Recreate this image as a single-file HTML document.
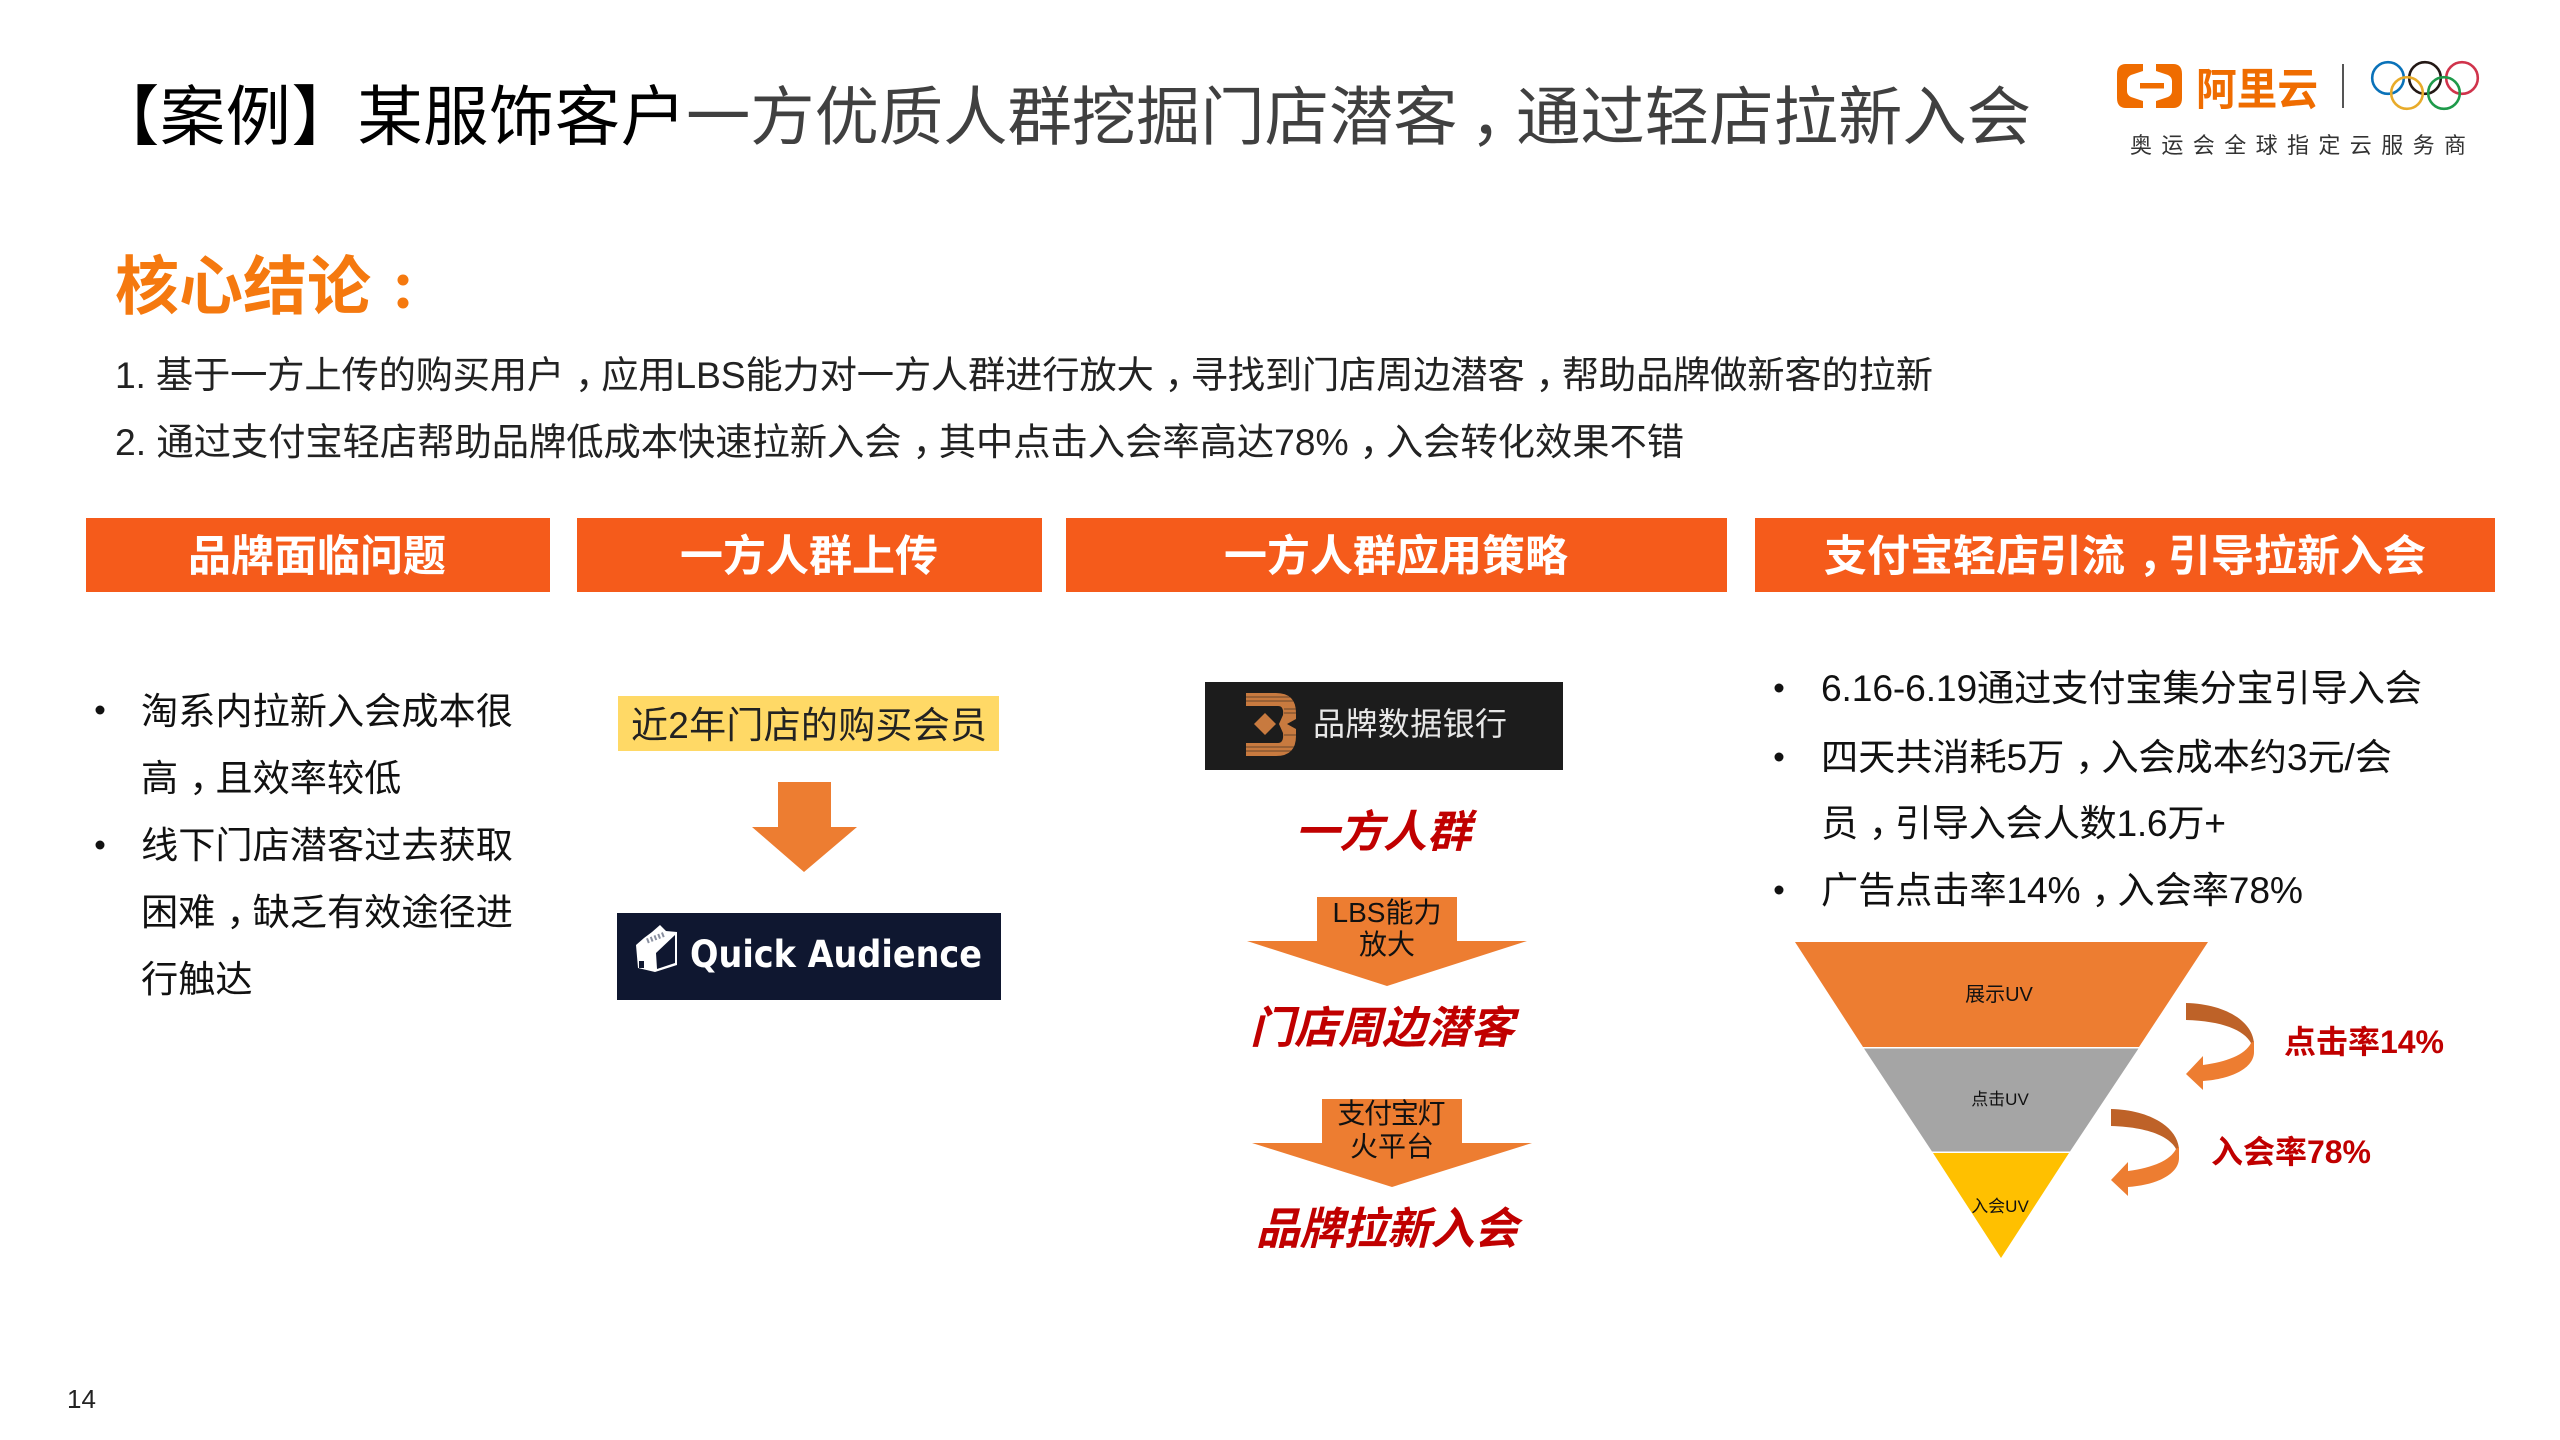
<!DOCTYPE html>
<html lang="zh">
<head>
<meta charset="utf-8">
<title>案例</title>
<style>
html,body{margin:0;padding:0;background:#fff;width:2560px;height:1440px;overflow:hidden}
svg{display:block}
text{font-family:"Liberation Sans","Noto Sans CJK SC",sans-serif;white-space:pre}
.b{font-size:37.2px;fill:#111}
.h{font-size:43px;font-weight:700;fill:#fff;text-anchor:middle}
.r{font-size:44px;font-weight:700;font-style:italic;fill:#C00000}
.s{font-size:28px;fill:#111;text-anchor:middle}
.u{fill:#111;text-anchor:middle}
.k{font-size:32px;font-weight:700;fill:#C00000}
</style>
</head>
<body>
<svg width="2560" height="1440" viewBox="0 0 2560 1440" xmlns="http://www.w3.org/2000/svg">
<rect width="2560" height="1440" fill="#fff"/>

<!-- Title -->
<text x="94" y="139.5" font-size="65.3" fill="#000" textLength="592">【案例】某服饰客户</text>
<text x="686" y="139.5" font-size="64.3" fill="#404040">一方优质人群挖掘门店潜客</text>
<text x="1470" y="139.5" font-size="64.6" fill="#404040">，</text>
<text x="1516" y="139.5" font-size="64.4" fill="#404040">通过轻店拉新入会</text>

<!-- Logo -->
<path fill="#EF6C00" d="M2126 64H2143V71L2131 75Q2127 77 2127 81V91Q2127 95 2131 97L2143 101V108H2126Q2117 108 2117 98V74Q2117 64 2126 64Z"/>
<path fill="#EF6C00" d="M2173 64H2156V71L2168 75Q2172 77 2172 81V91Q2172 95 2168 97L2156 101V108H2173Q2182 108 2182 98V74Q2182 64 2173 64Z"/>
<rect x="2140" y="83" width="24" height="5.5" fill="#EF6C00"/>
<text x="2196" y="104.5" font-size="44" font-weight="700" fill="#EF6C00" textLength="122" lengthAdjust="spacingAndGlyphs">阿里云</text>
<rect x="2342" y="64" width="2" height="44" fill="#555"/>
<g fill="none" stroke-width="2.6">
<circle cx="2388" cy="78" r="15.8" stroke="#0A72B9"/>
<circle cx="2425" cy="78" r="15.8" stroke="#231815"/>
<circle cx="2462" cy="78" r="15.8" stroke="#D0334B"/>
<circle cx="2407" cy="93" r="15.8" stroke="#E8AB2A"/>
<circle cx="2444" cy="93" r="15.8" stroke="#1E9A4A"/>
</g>
<text x="2130" y="153" font-size="22" fill="#333" textLength="336">奥运会全球指定云服务商</text>

<!-- Conclusions -->
<text x="115" y="309" font-size="64" font-weight="700" fill="#F5790F">核心结论</text>
<circle cx="403" cy="280" r="5.5" fill="#F5790F"/>
<circle cx="403" cy="303" r="5.5" fill="#F5790F"/>
<text x="115" y="388" font-size="37.3" fill="#222" textLength="1818">1. 基于一方上传的购买用户<tspan dx="11">，</tspan><tspan dx="-11">应</tspan>用LBS能力对一方人群进行放大<tspan dx="11">，</tspan><tspan dx="-11">寻</tspan>找到门店周边潜客<tspan dx="11">，</tspan><tspan dx="-11">帮</tspan>助品牌做新客的拉新</text>
<text x="115" y="455" font-size="37.3" fill="#222" textLength="1569">2. 通过支付宝轻店帮助品牌低成本快速拉新入会<tspan dx="11">，</tspan><tspan dx="-11">其</tspan>中点击入会率高达78%<tspan dx="11">，</tspan><tspan dx="-11">入</tspan>会转化效果不错</text>

<!-- Header bars -->
<g fill="#F55B1B">
<rect x="86" y="518" width="464" height="74"/>
<rect x="577" y="518" width="465" height="74"/>
<rect x="1066" y="518" width="661" height="74"/>
<rect x="1755" y="518" width="740" height="74"/>
</g>
<text class="h" x="317" y="571">品牌面临问题</text>
<text class="h" x="809" y="571">一方人群上传</text>
<text class="h" x="1396" y="571">一方人群应用策略</text>
<text class="h" x="2125" y="571">支付宝轻店引流<tspan dx="13">，</tspan><tspan dx="-13">引</tspan>导拉新入会</text>

<!-- Column 1 -->
<circle cx="100" cy="710" r="4.5" fill="#111"/>
<circle cx="100" cy="845" r="4.5" fill="#111"/>
<text class="b" x="141" y="724">淘系内拉新入会成本很</text>
<text class="b" x="141" y="791">高<tspan dx="11">，</tspan><tspan dx="-11">且</tspan>效率较低</text>
<text class="b" x="141" y="858">线下门店潜客过去获取</text>
<text class="b" x="141" y="925">困难<tspan dx="11">，</tspan><tspan dx="-11">缺</tspan>乏有效途径进</text>
<text class="b" x="141" y="992">行触达</text>

<!-- Column 2 -->
<rect x="618" y="696" width="381" height="55" fill="#FFD966"/>
<text x="631" y="738" font-size="37" fill="#222" textLength="356">近2年门店的购买会员</text>
<polygon points="778,782 831,782 831,827 857,827 804,872 752,827 778,827" fill="#ED7D31"/>
<rect x="617" y="913" width="384" height="87" fill="#0F1730"/>
<path fill="#fff" d="M636 945L644 938L652 932L660 925L666 931L677 932V965L655 972L638 968Z"/>
<path fill="#0F1730" d="M656 953L675 935V963L657 969Z"/>
<path d="M647 941L665 934" stroke="#8a90a0" stroke-width="5" stroke-dasharray="2 2" fill="none"/>
<rect x="639" y="961" width="5" height="7" fill="#0F1730"/>
<text x="690" y="967" font-size="37" font-weight="700" fill="#fff" textLength="292" lengthAdjust="spacingAndGlyphs" style="font-family:'DejaVu Sans','Liberation Sans',sans-serif">Quick Audience</text>

<!-- Column 3 -->
<rect x="1205" y="682" width="358" height="88" fill="#1C1C1C"/>
<path fill="#C87A3F" d="M1246 693H1276Q1296 693 1296 713V719L1287 724L1296 729V736Q1296 756 1276 756H1246V743H1278Q1284 743 1283 733L1279 724L1283 715Q1284 706 1278 706H1246Z"/>
<g stroke="#1C1C1C" stroke-width="1" opacity=".55">
<path d="M1246 697H1296M1246 701H1296M1284 709H1296M1284 713H1296M1284 735H1296M1246 747H1296M1246 751H1296"/>
</g>
<polygon points="1265,713 1276,724 1265,735 1254,724" fill="#C87A3F"/>
<text x="1313" y="735" font-size="32" fill="#E8E8E8" textLength="194">品牌数据银行</text>

<text class="r" x="1295" y="847" textLength="176">一方人群</text>
<polygon points="1317,897 1457,897 1457,941 1527,941 1387,986 1247,941 1317,941" fill="#ED7D31"/>
<text class="s" x="1387" y="922">LBS能力</text>
<text class="s" x="1387" y="954">放大</text>
<text class="r" x="1250" y="1043" textLength="264">门店周边潜客</text>
<polygon points="1322,1099 1462,1099 1462,1143 1532,1143 1392,1187 1252,1143 1322,1143" fill="#ED7D31"/>
<text class="s" x="1391.5" y="1123" textLength="108">支付宝灯</text>
<text class="s" x="1392" y="1156">火平台</text>
<text class="r" x="1256" y="1244" textLength="262">品牌拉新入会</text>

<!-- Column 4 -->
<circle cx="1779" cy="688" r="4.5" fill="#111"/>
<circle cx="1779" cy="757" r="4.5" fill="#111"/>
<circle cx="1779" cy="890" r="4.5" fill="#111"/>
<text class="b" x="1821" y="701" textLength="601">6.16-6.19通过支付宝集分宝引导入会</text>
<text class="b" x="1821" y="770" textLength="571">四天共消耗5万<tspan dx="11">，</tspan><tspan dx="-11">入</tspan>会成本约3元/会</text>
<text class="b" x="1821" y="836" textLength="405">员<tspan dx="11">，</tspan><tspan dx="-11">引</tspan>导入会人数1.6万+</text>
<text class="b" x="1821" y="903" textLength="482">广告点击率14%<tspan dx="11">，</tspan><tspan dx="-11">入</tspan>会率78%</text>

<!-- Funnel -->
<polygon points="1795,942 2208,942 2139,1047 1863,1047" fill="#ED7D31"/>
<polygon points="1864,1048.5 2138.5,1048.5 2070,1151.5 1932,1151.5" fill="#A5A5A5"/>
<polygon points="1933,1153 2069,1153 2001,1258" fill="#FFC000"/>
<text class="u" x="1999" y="1001" font-size="20">展示UV</text>
<text class="u" x="2000" y="1105" font-size="17">点击UV</text>
<text class="u" x="2000" y="1212" font-size="17">入会UV</text>

<!-- Curved arrows -->
<path fill="#BE6228" d="M2186 1003C2226 1004 2254 1022 2254 1045L2251 1043C2244 1030 2222 1021 2186 1020Z"/>
<path fill="#ED7D31" d="M2251 1043L2254 1041V1052C2254 1068 2232 1079 2203 1081V1090L2186 1074L2203 1056V1065C2226 1062 2245 1055 2251 1043Z"/>
<g transform="translate(-75 106)">
<path fill="#BE6228" d="M2186 1003C2226 1004 2254 1022 2254 1045L2251 1043C2244 1030 2222 1021 2186 1020Z"/>
<path fill="#ED7D31" d="M2251 1043L2254 1041V1052C2254 1068 2232 1079 2203 1081V1090L2186 1074L2203 1056V1065C2226 1062 2245 1055 2251 1043Z"/>
</g>
<text class="k" x="2284" y="1053" textLength="160">点击率14%</text>
<text class="k" x="2211" y="1163" textLength="160">入会率78%</text>

<!-- Page number -->
<text x="67" y="1408" font-size="26" fill="#222">14</text>
</svg>
</body>
</html>
